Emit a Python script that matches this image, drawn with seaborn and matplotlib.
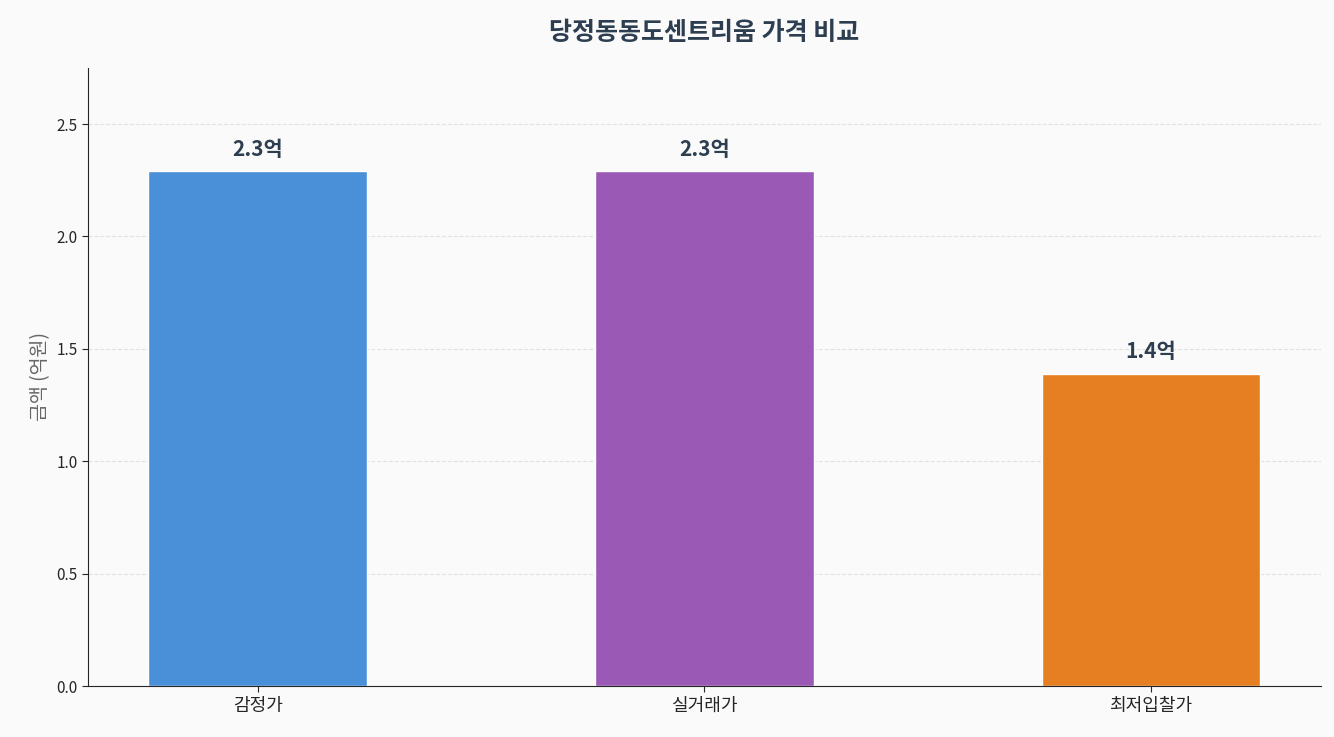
import matplotlib
matplotlib.use('Agg')
import matplotlib.pyplot as plt
import seaborn as sns
import pandas as pd

categories = ['감정가', '실거래가', '최저입찰가']
values = [2.29, 2.29, 1.39]
labels = ['2.3억', '2.3억', '1.4억']
colors = ['#4a90d9', '#9b59b6', '#e67e22']

sns.set_style('white')
plt.rcParams['font.family'] = ['Noto Sans CJK KR', 'DejaVu Sans']

df = pd.DataFrame({'cat': categories, 'val': values})

fig, ax = plt.subplots(figsize=(13.34, 7.37), dpi=100)
fig.patch.set_facecolor('#fafafa')
ax.set_facecolor('#fafafa')

sns.barplot(data=df, x='cat', y='val', hue='cat', palette=colors, width=0.49,
            legend=False, ax=ax, saturation=1)

for i, (v, t) in enumerate(zip(values, labels)):
    ax.text(i, v + 0.05, t, ha='center', va='bottom', fontsize=15,
            fontweight='bold', color='#2c3e50')

ax.set_ylim(0, 2.75)
ax.set_xlim(-0.38, 2.38)
ax.set_yticks([0, 0.5, 1.0, 1.5, 2.0, 2.5])
ax.yaxis.grid(True, linestyle='--', color='#dddddd', alpha=0.8)
ax.set_axisbelow(True)
ax.set_xlabel('')
ax.set_ylabel('금액 (억원)', fontsize=14, color='#666666')
ax.tick_params(axis='x', labelsize=13, length=4)
ax.tick_params(axis='y', labelsize=11, length=4, left=True)
ax.tick_params(axis='x', bottom=True)
ax.set_title('당정동동도센트리움 가격 비교', fontsize=18, fontweight='bold',
             color='#2c3e50', pad=20)
sns.despine(ax=ax)

plt.subplots_adjust(left=0.066, right=0.99, top=0.908, bottom=0.069)
plt.savefig('out.png', dpi=100, facecolor=fig.get_facecolor())
